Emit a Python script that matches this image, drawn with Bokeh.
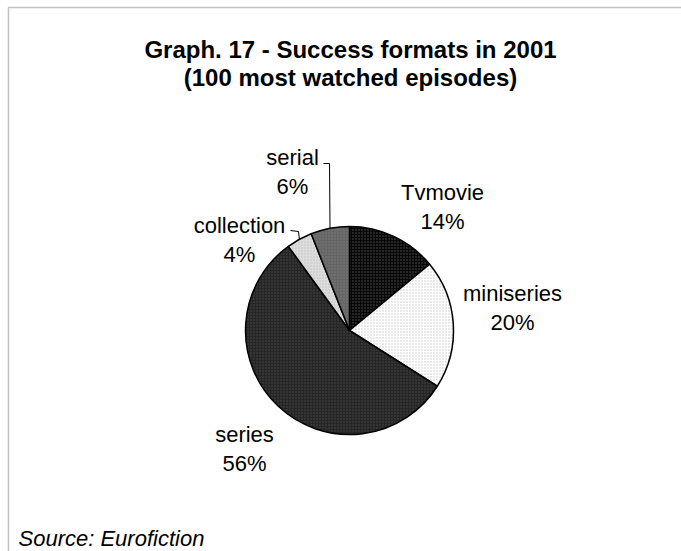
import numpy as np
from bokeh.plotting import figure
from bokeh.models import Range1d, BoxAnnotation, ColumnDataSource
from bokeh.core.properties import value
from bokeh.embed import file_html
from bokeh.resources import INLINE

# ---- data ----
categories = ["Tvmovie", "miniseries", "series", "collection", "serial"]
shares = [14, 20, 56, 4, 6]
title_lines = ["Graph. 17 - Success formats in 2001", "(100 most watched episodes)"]
source_text = "Source: Eurofiction"

# ---- styles / layout ----
W, H = 681, 551
CX, CY, R = 349, H - 330, 104
fills = ["#080808", "#ffffff", "#262626", "#dcdcdc", "#666666"]
hatch_cols = ["#a0a0a0", "#909090", "#6a6a6a", "#a8a8a8", "#8c8c8c"]
hatch_alphas = [0.5, 0.5, 0.5, 0.5, 0.5]
# label anchor offsets from pie centre (x centre, baseline of first line)
label_off = [(93, 138), (163, 37), (-105, -104), (-110, 105), (-57, 173)]
LINE_GAP = 29
# leader line extra points (offsets from pie centre), for labels needing one
leaders = {3: [(-51, 99), (-59, 100)], 4: [(-20, 167), (-26, 167)]}
FONT = value("Liberation Sans")

p = figure(width=W, height=H, x_range=Range1d(0, W), y_range=Range1d(0, H),
           output_backend="svg", toolbar_location=None, min_border=0,
           background_fill_color="white", border_fill_color="white")
p.axis.visible = False
p.grid.visible = False
p.outline_line_color = None

# frame
p.add_layout(BoxAnnotation(left=8, right=W + 20, top=H - 7, bottom=-20,
                           fill_alpha=0, line_color="#333333", line_width=1.5))

cum = np.cumsum([0] + shares)
start = np.pi / 2 - 2 * np.pi * cum[:-1] / 100.0
end = np.pi / 2 - 2 * np.pi * cum[1:] / 100.0
mid = (start + end) / 2

src = ColumnDataSource(dict(start=start, end=end, fill=fills, hc=hatch_cols,
                            ha=hatch_alphas, cat=categories))
p.wedge(x=CX, y=CY, radius=R, start_angle="start", end_angle="end",
        direction="clock", fill_color="fill", line_color="black", line_width=1.5,
        hatch_pattern="dot", hatch_color="hc", hatch_alpha="ha",
        hatch_scale=3, hatch_weight=1, source=src)

# leader lines
for i, pts in leaders.items():
    xs = [CX + R * np.cos(mid[i])] + [CX + dx for dx, dy in pts]
    ys = [CY + R * np.sin(mid[i])] + [CY + dy for dx, dy in pts]
    p.line(xs, ys, line_color="black", line_width=1)

# labels
lx = [CX + dx for dx, dy in label_off]
ly = [CY + dy for dx, dy in label_off]
pct = [f"{s}%" for s in shares]
p.text(x=lx, y=ly, text=categories, text_font=FONT, text_font_size="22px",
       text_align="center", text_baseline="alphabetic", text_color="black")
p.text(x=lx, y=[y - LINE_GAP for y in ly], text=pct, text_font=FONT,
       text_font_size="22px", text_align="center", text_baseline="alphabetic",
       text_color="black")

# title
p.text(x=[350, 350], y=[H - 49, H - 77], text=title_lines, text_font=FONT,
       text_font_size="24px", text_font_style="bold", text_align="center",
       text_baseline="alphabetic", text_color="black")

# source
p.text(x=[18], y=[H - 538], text=[source_text], text_font=FONT,
       text_font_size="22px", text_font_style="italic", text_align="left",
       text_baseline="alphabetic", text_color="black")

open("out.html", "w").write(file_html(p, INLINE))
